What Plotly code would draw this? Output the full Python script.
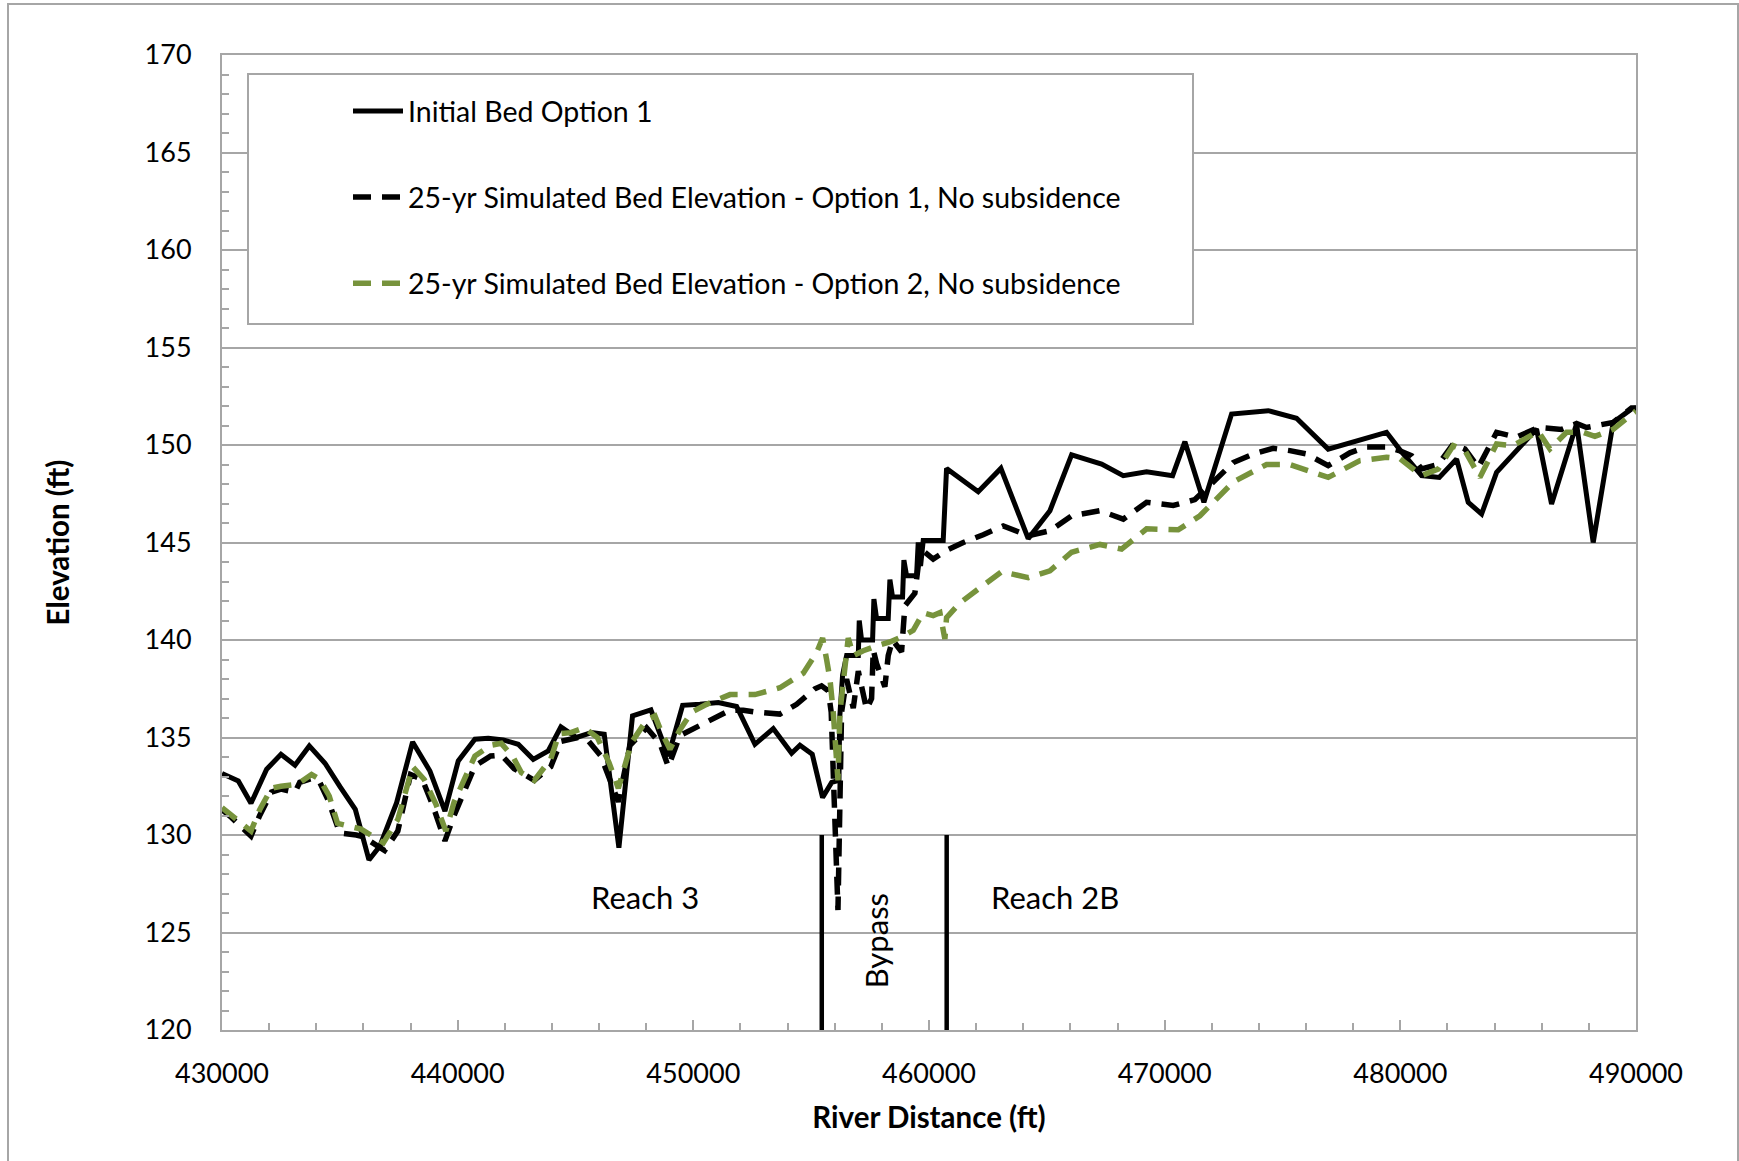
import plotly.graph_objects as go

# ---------------- data ----------------
initial_x = [430000, 430693, 431230, 431895, 432503, 433097, 433705, 434370, 435006, 435656,
             436236, 436702, 437410, 438088, 438823, 439460, 440025, 440732, 441298, 441934,
             442570, 443207, 443843, 444380, 445045, 445681, 446219, 446841, 447420, 448200,
             448938, 449546, 450281, 451059, 451837, 452614, 453392, 454170, 454523, 455046,
             455485, 455870, 456180, 456210, 456333, 456505, 457000, 457040, 457139, 457606,
             457662, 457775, 458270, 458341, 458454, 458878, 458935, 459048, 459472, 459543,
             459642, 459755, 460603, 460745, 462088, 463050, 464210, 465132, 466051, 467324,
             468243, 469233, 470336, 470859, 471665, 472839, 474394, 475596, 476939, 478283,
             479414, 479983, 480902, 481652, 482387, 482882, 483448, 484084, 485780, 486417,
             487477, 488184, 489032, 489810, 490000]
initial_y = [133.15, 132.77, 131.63, 133.37, 134.14, 133.58, 134.57, 133.68, 132.48, 131.32,
             128.72, 129.44, 131.66, 134.77, 133.28, 131.23, 133.80, 134.91, 134.96, 134.88,
             134.65, 133.88, 134.31, 135.54, 135.00, 135.25, 135.17, 129.35, 136.11, 136.42,
             134.05, 136.65, 136.70, 136.79, 136.59, 134.65, 135.46, 134.19, 134.60, 134.14,
             131.92, 132.70, 132.80, 136.00, 138.20, 139.20, 139.20, 141.00, 140.00, 140.00,
             142.10, 141.10, 141.10, 143.10, 142.20, 142.20, 144.10, 143.30, 143.30, 145.00,
             143.80, 145.10, 145.10, 148.80, 147.60, 148.80, 145.20, 146.63, 149.49, 149.02,
             148.43, 148.63, 148.43, 150.17, 147.06, 151.59, 151.76, 151.37, 149.79, 150.26,
             150.65, 149.75, 148.43, 148.34, 149.28, 147.06, 146.46, 148.60, 150.82, 146.97,
             151.08, 145.00, 151.16, 151.85, 151.90]

opt1_x = [430000, 430400, 431230, 431600, 432100, 432503, 433097, 433300, 433800, 434150,
          434500, 435000, 435700, 436000, 436900, 437460, 438000, 438500, 438950, 439460,
          439850, 440300, 440732, 441400, 441850, 442400, 443250, 443950, 444380, 445100,
          445500, 446076, 446817, 447312, 448019, 448584, 448938, 449433, 450211, 450705,
          451554, 452119, 452685, 453675, 454382, 455159, 455442, 455725, 455850, 456137,
          456290, 456503, 456786, 457000, 457351, 457564, 457634, 457775, 458128, 458270,
          458454, 458836, 458977, 459401, 459543, 459825, 460178, 460745, 461452, 462300,
          463150, 464213, 465132, 466051, 467253, 468243, 469233, 470364, 471283, 472060,
          472909, 473758, 474606, 475313, 476020, 476939, 477858, 478565, 479414, 479983,
          480478, 480902, 481609, 482246, 482741, 483307, 484084, 484932, 485851, 486841,
          487477, 487901, 489032, 489810, 490000]
opt1_y = [131.30, 130.90, 129.95, 131.00, 132.20, 132.35, 132.20, 132.70, 132.90, 132.70,
          131.80, 130.10, 130.00, 129.90, 129.20, 130.20, 133.10, 132.85, 131.50, 129.70,
          131.00, 132.35, 133.54, 134.05, 134.10, 133.40, 132.80, 133.50, 134.80, 135.00,
          134.90, 134.05, 131.70, 134.60, 135.50, 134.70, 133.50, 135.10, 135.60, 135.90,
          136.40, 136.40, 136.30, 136.20, 136.70, 137.50, 137.65, 137.40, 136.30, 126.15,
          136.30, 138.00, 136.50, 138.40, 136.45, 137.00, 139.50, 138.80, 137.60, 139.20,
          140.00, 139.40, 141.75, 142.40, 143.80, 144.50, 144.15, 144.60, 145.00, 145.40,
          145.85, 145.35, 145.60, 146.37, 146.63, 146.20, 147.06, 146.90, 147.20, 148.10,
          149.10, 149.54, 149.83, 149.71, 149.54, 148.94, 149.60, 149.90, 149.90, 149.70,
          149.45, 148.77, 149.00, 150.05, 149.80, 148.85, 150.65, 150.40, 150.90, 150.80,
          151.10, 150.90, 151.16, 151.90, 151.90]

opt2_x = [430000, 430400, 431000, 431230, 431600, 432100, 432503, 433200, 433800, 434150,
          434550, 434900, 435900, 436300, 436850, 437460, 438090, 438580, 439070, 439500,
          439850, 440300, 440732, 441400, 441850, 442350, 442700, 443250, 443950, 444300,
          444800, 445370, 445930, 446425, 446817, 447382, 448019, 448372, 448655, 449008,
          449433, 449928, 450564, 451554, 452614, 453675, 454664, 455230, 455485, 455655,
          455796, 455937, 456137, 456220, 456432, 456573, 456786, 457210, 457775, 458341,
          458906, 459331, 459755, 460178, 460462, 460674, 460745, 461311, 462300, 463078,
          464213, 465132, 466051, 467253, 468172, 469233, 470576, 471495, 472909, 474323,
          475313, 476939, 478283, 479414, 479983, 480902, 481609, 482246, 482741, 483377,
          484084, 484791, 485851, 486346, 487053, 487760, 488255, 489032, 489952, 490000]
opt2_y = [131.40, 131.00, 130.40, 130.20, 131.30, 132.40, 132.50, 132.60, 133.10, 132.85,
          132.00, 130.60, 130.30, 130.00, 129.60, 130.80, 133.50, 132.85, 131.60, 130.20,
          131.70, 132.90, 134.05, 134.60, 134.70, 134.00, 133.20, 132.80, 133.90, 135.20,
          135.25, 135.50, 135.00, 133.70, 132.40, 134.75, 135.90, 136.10, 135.25, 134.40,
          135.40, 136.30, 136.70, 137.20, 137.20, 137.55, 138.30, 139.35, 140.10, 139.00,
          138.00, 136.30, 132.80, 136.30, 138.30, 140.10, 139.20, 139.45, 139.70, 139.90,
          140.20, 140.50, 141.40, 141.25, 141.40, 140.05, 141.15, 141.90, 142.80, 143.50,
          143.20, 143.55, 144.50, 144.90, 144.66, 145.70, 145.65, 146.37, 148.10, 149.00,
          149.00, 148.34, 149.20, 149.37, 149.30, 148.43, 148.77, 149.97, 149.71, 148.34,
          150.05, 149.97, 150.70, 149.80, 150.65, 150.65, 150.44, 150.80, 151.70, 151.75]

series_names = ["Initial Bed Option 1",
                "25-yr Simulated Bed Elevation - Option 1, No subsidence",
                "25-yr Simulated Bed Elevation - Option 2, No subsidence"]

reach_boundaries = [455450, 460750]
boundary_bottom, boundary_top = 120, 130
reach_labels = ["Reach 3", "Bypass", "Reach 2B"]
reach_label_x = [447950, 457750, 465350]
reach_label_y = [126.8, 124.6, 126.8]
reach_label_angle = [0, -90, 0]

x_range = [430000, 490000]
y_range = [120, 170]
x_ticks = [430000, 440000, 450000, 460000, 470000, 480000, 490000]
y_ticks = [120, 125, 130, 135, 140, 145, 150, 155, 160, 165, 170]

# ---------------- styles ----------------
FONT = "Lato, 'Open Sans', sans-serif"
GRID = "#a6a6a6"
GREEN = "#77933c"
DASH = "18px,11px"

fig = go.Figure()
fig.add_trace(go.Scatter(x=initial_x, y=initial_y, mode="lines", name=series_names[0],
                         legendgroup="a",
                         line=dict(color="black", width=5)))
fig.add_trace(go.Scatter(x=opt1_x, y=opt1_y, mode="lines", name=series_names[1],
                         legendgroup="b",
                         line=dict(color="black", width=5.5, dash=DASH)))
fig.add_trace(go.Scatter(x=opt2_x, y=opt2_y, mode="lines", name=series_names[2],
                         legendgroup="c",
                         line=dict(color=GREEN, width=5.5, dash=DASH)))

# reach boundary lines
for bx in reach_boundaries:
    fig.add_shape(type="line", xref="x", yref="y", x0=bx, x1=bx,
                  y0=boundary_bottom, y1=boundary_top,
                  line=dict(color="black", width=4.5), layer="above")

for txt, lx, ly, ang in zip(reach_labels, reach_label_x, reach_label_y, reach_label_angle):
    fig.add_annotation(x=lx, y=ly, xref="x", yref="y", text=txt, showarrow=False,
                       textangle=ang, font=dict(family=FONT, size=31, color="black"))

# legend box (white, covers gridlines)
L, R, T, B = 222, 1636, 55, 1030
def px(xp): return (xp - L) / (R - L)
def py(yp): return (B - yp) / (B - T)

fig.add_shape(type="rect", xref="paper", yref="paper",
              x0=px(248), x1=px(1193), y0=py(324), y1=py(74),
              fillcolor="white", line=dict(color=GRID, width=2), layer="above")

# outer chart border
fig.add_shape(type="rect", xref="paper", yref="paper",
              x0=px(8), x1=px(1738), y0=py(1200), y1=py(4),
              fillcolor="rgba(0,0,0,0)", line=dict(color=GRID, width=2), layer="below")

fig.update_layout(
    width=1739, height=1161,
    margin=dict(l=L, r=1739 - R, t=T, b=1161 - B),
    paper_bgcolor="white", plot_bgcolor="white",
    font=dict(family=FONT, size=27, color="black"),
    showlegend=True,
    legend=dict(x=px(348), y=py(86), xanchor="left", yanchor="top",
                bgcolor="rgba(0,0,0,0)", borderwidth=0,
                font=dict(family=FONT, size=28.5, color="black"),
                tracegroupgap=46, itemwidth=50, traceorder="grouped"),
    xaxis=dict(range=x_range, tickvals=x_ticks, tickformat="d",
               showgrid=False, zeroline=False,
               showline=True, linecolor=GRID, linewidth=2, mirror=True,
               ticks="inside", ticklen=10, tickwidth=1.5, tickcolor=GRID,
               minor=dict(dtick=2000, ticks="inside", ticklen=7, tickwidth=1.5,
                          tickcolor=GRID, showgrid=False),
               ticklabelstandoff=19,
               tickfont=dict(family=FONT, size=27),
               title=dict(text="<b>River Distance (ft)</b>", standoff=19,
                          font=dict(family=FONT, size=29.5))),
    yaxis=dict(range=y_range, tickvals=y_ticks,
               showgrid=True, gridcolor=GRID, gridwidth=2, zeroline=False,
               showline=True, linecolor=GRID, linewidth=2, mirror=True,
               ticks="inside", ticklen=7, tickwidth=1.5, tickcolor=GRID,
               minor=dict(dtick=1, ticks="inside", ticklen=7, tickwidth=1.5,
                          tickcolor=GRID, showgrid=False),
               ticklabelstandoff=23,
               tickfont=dict(family=FONT, size=27),
               title=dict(text="<b>Elevation (ft)</b>", standoff=66,
                          font=dict(family=FONT, size=29.5))),
)

fig.write_html("out.html")
